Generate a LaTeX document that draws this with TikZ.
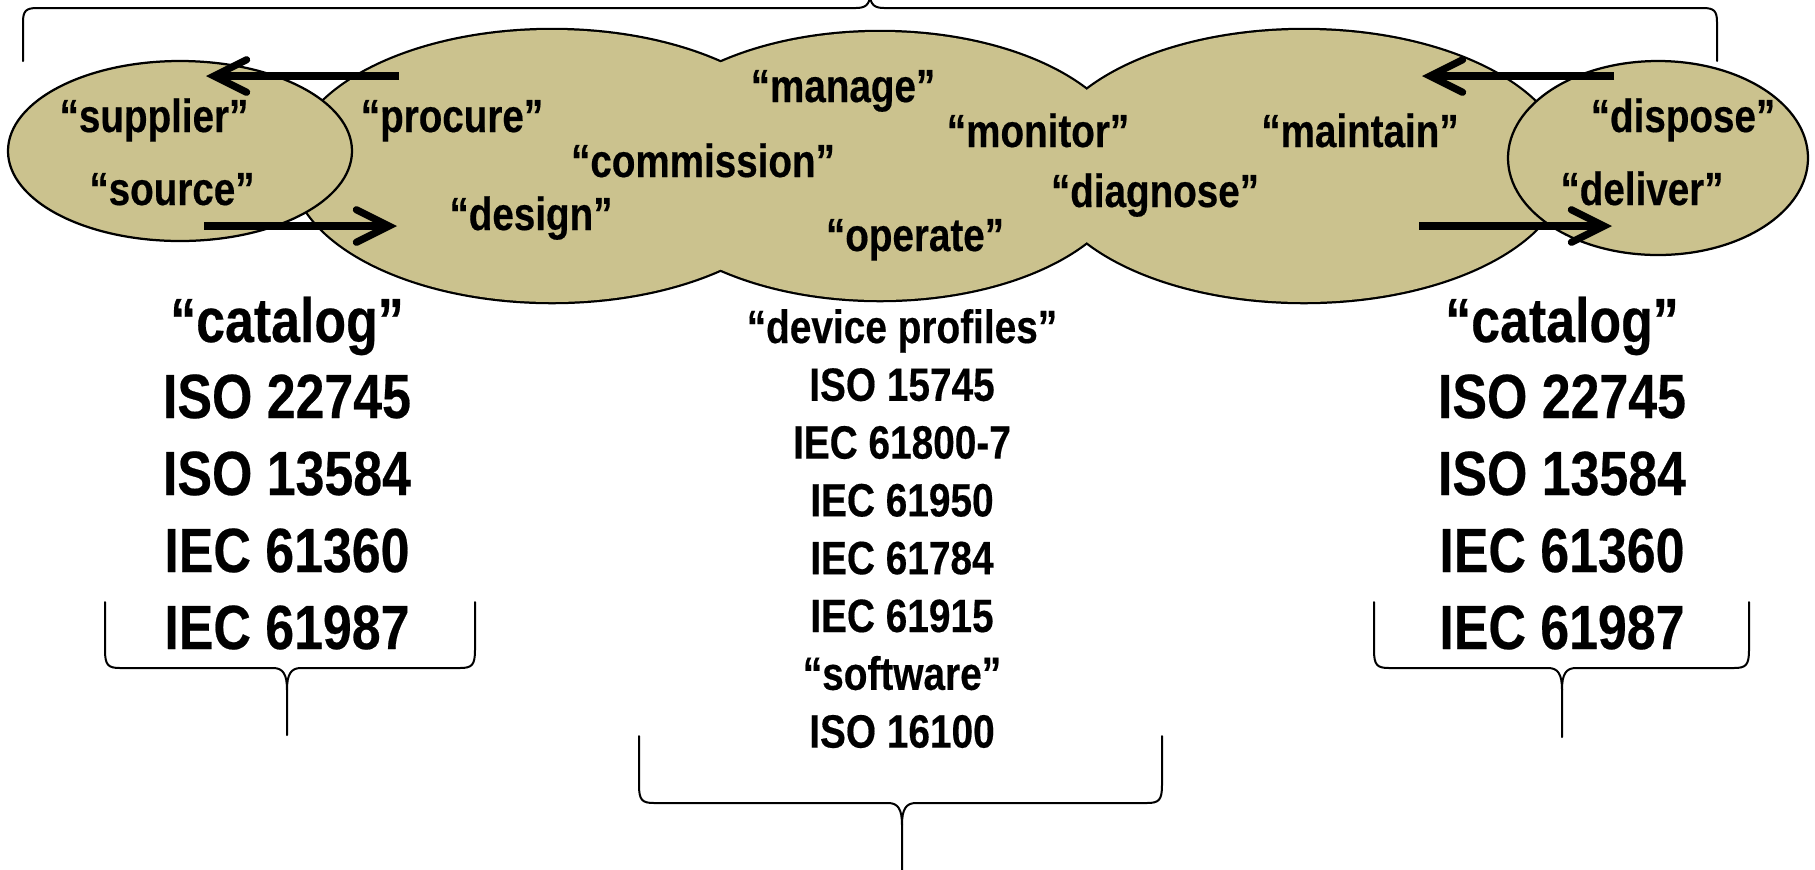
\documentclass[tikz,border=0pt]{standalone}
\usepackage{fontspec}
\newfontfamily\nar[FakeStretch=0.83,FakeBold=0.35]{Liberation Sans}
\usetikzlibrary{arrows.meta}
\definecolor{blobfill}{RGB}{203,194,142}
\newcommand{\lowbrace}[6]{%
  \draw[brace] (#1,#3) -- ({#1},{#4-18}) .. controls ({#1},{#4-3}) and ({#1+3},{#4}) .. ({#1+15},{#4})
    -- ({#5-14},{#4}) .. controls ({#5-4},{#4}) and ({#5},{#4+6}) .. ({#5},{#4+22}) -- (#5,#6);
  \draw[brace] ({#5},{#4+22}) .. controls ({#5},{#4+6}) and ({#5+4},{#4}) .. ({#5+14},{#4})
    -- ({#2-15},{#4}) .. controls ({#2-3},{#4}) and ({#2},{#4-3}) .. ({#2},{#4-18}) -- (#2,#3);}
\begin{document}
\begin{tikzpicture}[x=0.4pt,y=-0.4pt,
  lbl/.style={font=\nar\bfseries\fontsize{18.6}{18.6}\selectfont, anchor=base, inner sep=0},
  big/.style={font=\nar\bfseries\fontsize{25}{25}\selectfont, anchor=base, inner sep=0},
  mid/.style={font=\nar\bfseries\fontsize{18.7}{18.7}\selectfont, anchor=base, inner sep=0},
  blob/.style={fill=blobfill, draw=black, line width=0.9pt},
  flow/.style={line width=2.9pt, -{Straight Barb[length=13pt,width=13pt,line cap=round]}},
  brace/.style={line width=0.8pt, line cap=round}]

\useasboundingbox (0,0) rectangle (1815,869);

% top brace
\draw[brace] (23,61) -- (23,22) .. controls (23,11) and (26,8) .. (37,8) -- (856,8)
  .. controls (865,8) and (870,5) .. (870,-6);
\draw[brace] (870,-6) .. controls (870,5) and (875,8) .. (884,8) -- (1703,8)
  .. controls (1714,8) and (1717,11) .. (1717,22) -- (1717,61);

% union of the three middle ellipses
\draw[line width=1.8pt] (552,166) ellipse [x radius=260, y radius=136];
\draw[line width=1.8pt] (880,166) ellipse [x radius=251, y radius=134];
\draw[line width=1.8pt] (1304,166) ellipse [x radius=262, y radius=136];
\fill[blobfill] (552,166) ellipse [x radius=260, y radius=136];
\fill[blobfill] (880,166) ellipse [x radius=251, y radius=134];
\fill[blobfill] (1304,166) ellipse [x radius=262, y radius=136];

% end ellipses
\draw[blob] (180,151) ellipse [x radius=172, y radius=90];
\draw[blob] (1658,158) ellipse [x radius=150, y radius=97];

% arrows
\coordinate (a1s) at (399,76);  \coordinate (a1e) at (206,76);
\coordinate (a2s) at (204,226); \coordinate (a2e) at (397,226);
\coordinate (a3s) at (1614,76); \coordinate (a3e) at (1422,76);
\coordinate (a4s) at (1419,226);\coordinate (a4e) at (1612,226);
\draw[flow] (a1s) -- (a1e);
\draw[flow] (a2s) -- (a2e);
\draw[flow] (a3s) -- (a3e);
\draw[flow] (a4s) -- (a4e);

% labels in the ellipses
\node[lbl] (supplier) at (154,132) {“supplier”};
\node[lbl] (source) at (172,205) {“source”};
\node[lbl] (procure) at (452,132) {“procure”};
\node[lbl] (design) at (531,230) {“design”};
\node[lbl] (commission) at (703,177) {“commission”};
\node[lbl] (manage) at (843,102) {“manage”};
\node[lbl] (operate) at (915,251) {“operate”};
\node[lbl] (monitor) at (1038,147) {“monitor”};
\node[lbl] (diagnose) at (1155,207) {“diagnose”};
\node[lbl] (maintain) at (1360,147) {“maintain”};
\node[lbl] (dispose) at (1683,132) {“dispose”};
\node[lbl] (deliver) at (1642,205) {“deliver”};

% left column
\node[big] (lc0) at (287,342) {“catalog”};
\node[big] (lc1) at (287,418) {ISO 22745};
\node[big] (lc2) at (287,495) {ISO 13584};
\node[big] (lc3) at (287,572) {IEC 61360};
\node[big] (lc4) at (287,649) {IEC 61987};
% right column
\node[big] (rc0) at (1562,342) {“catalog”};
\node[big] (rc1) at (1562,418) {ISO 22745};
\node[big] (rc2) at (1562,495) {ISO 13584};
\node[big] (rc3) at (1562,572) {IEC 61360};
\node[big] (rc4) at (1562,649) {IEC 61987};
% middle column
\node[mid] (mc0) at (902,343) {“device profiles”};
\node[mid] (mc1) at (902,400.8) {ISO 15745};
\node[mid] (mc2) at (902,458.6) {IEC 61800-7};
\node[mid] (mc3) at (902,516.4) {IEC 61950};
\node[mid] (mc4) at (902,574.2) {IEC 61784};
\node[mid] (mc5) at (902,632) {IEC 61915};
\node[mid] (mc6) at (902,689.8) {“software”};
\node[mid] (mc7) at (902,747.6) {ISO 16100};

% lower braces
\lowbrace{105}{475}{602}{668}{287}{735}
\lowbrace{1374}{1749}{602}{668}{1562}{737}
\lowbrace{639}{1162}{736}{803}{902}{875}
\end{tikzpicture}
\end{document}
